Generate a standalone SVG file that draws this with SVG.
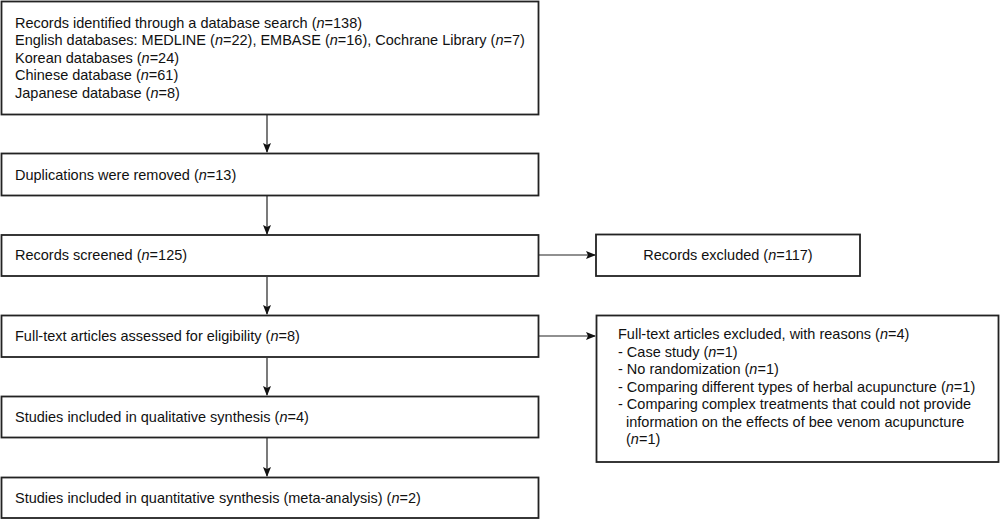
<svg xmlns="http://www.w3.org/2000/svg" width="1000" height="519" viewBox="0 0 1000 519">
<style>
.box{fill:#fff;stroke:#222;stroke-width:1.8}
.t{font-family:"Liberation Sans",Arial,sans-serif;font-size:14.5px;fill:#111}
.c{stroke:#222;stroke-width:1.2;fill:none}
</style>
<defs>
<marker id="ah" markerWidth="10" markerHeight="8" refX="9" refY="4" orient="auto" markerUnits="userSpaceOnUse">
<path d="M0,0 L10,4 L0,8 L2,4 Z" fill="#111"/>
</marker>
</defs>
<rect width="1000" height="519" fill="#fff"/>
<g id="connectors">
<line class="c" x1="267" y1="115" x2="267" y2="152" marker-end="url(#ah)"/>
<line class="c" x1="267" y1="196" x2="267" y2="234" marker-end="url(#ah)"/>
<line class="c" x1="267" y1="277" x2="267" y2="314" marker-end="url(#ah)"/>
<line class="c" x1="267" y1="358" x2="267" y2="395" marker-end="url(#ah)"/>
<line class="c" x1="267" y1="438" x2="267" y2="476" marker-end="url(#ah)"/>
<line class="c" x1="539" y1="255" x2="595" y2="255" marker-end="url(#ah)"/>
<line class="c" x1="539" y1="336" x2="595" y2="336" marker-end="url(#ah)"/>
</g>
<g id="identified">
<rect class="box" x="1.5" y="1.5" width="537" height="113"/>
<text class="t" x="15" y="27.5">Records identified through a database search (<tspan font-style="italic">n</tspan>=138)</text>
<text class="t" x="15" y="45">English databases: MEDLINE (<tspan font-style="italic">n</tspan>=22), EMBASE (<tspan font-style="italic">n</tspan>=16), Cochrane Library (<tspan font-style="italic">n</tspan>=7)</text>
<text class="t" x="15" y="62.5">Korean databases (<tspan font-style="italic">n</tspan>=24)</text>
<text class="t" x="15" y="80">Chinese database (<tspan font-style="italic">n</tspan>=61)</text>
<text class="t" x="15" y="97.5">Japanese database (<tspan font-style="italic">n</tspan>=8)</text>
</g>
<g id="duplications">
<rect class="box" x="1.5" y="153.5" width="537" height="42"/>
<text class="t" x="15" y="180">Duplications were removed (<tspan font-style="italic">n</tspan>=13)</text>
</g>
<g id="screened">
<rect class="box" x="1.5" y="235" width="537" height="41"/>
<text class="t" x="15" y="260">Records screened (<tspan font-style="italic">n</tspan>=125)</text>
</g>
<g id="excluded">
<rect class="box" x="596" y="234.5" width="264" height="41.5"/>
<text class="t" x="728" y="260" text-anchor="middle">Records excluded (<tspan font-style="italic">n</tspan>=117)</text>
</g>
<g id="fulltext">
<rect class="box" x="1.5" y="315.5" width="537" height="41.5"/>
<text class="t" x="15" y="341">Full-text articles assessed for eligibility (<tspan font-style="italic">n</tspan>=8)</text>
</g>
<g id="fulltext-excluded">
<rect class="box" x="596.5" y="315.5" width="402" height="146.5"/>
<text class="t" x="618" y="339">Full-text articles excluded, with reasons (<tspan font-style="italic">n</tspan>=4)</text>
<text class="t" x="618" y="356.5">- Case study (<tspan font-style="italic">n</tspan>=1)</text>
<text class="t" x="618" y="374">- No randomization (<tspan font-style="italic">n</tspan>=1)</text>
<text class="t" x="618" y="391.5">- Comparing different types of herbal acupuncture (<tspan font-style="italic">n</tspan>=1)</text>
<text class="t" x="618" y="409">- Comparing complex treatments that could not provide</text>
<text class="t" x="626" y="426.5">information on the effects of bee venom acupuncture</text>
<text class="t" x="626" y="444">(<tspan font-style="italic">n</tspan>=1)</text>
</g>
<g id="qualitative">
<rect class="box" x="1.5" y="396.5" width="537" height="41"/>
<text class="t" x="15" y="422">Studies included in qualitative synthesis (<tspan font-style="italic">n</tspan>=4)</text>
</g>
<g id="quantitative">
<rect class="box" x="1.5" y="477.5" width="537" height="40.5"/>
<text class="t" x="15" y="503">Studies included in quantitative synthesis (meta-analysis) (<tspan font-style="italic">n</tspan>=2)</text>
</g>
</svg>
